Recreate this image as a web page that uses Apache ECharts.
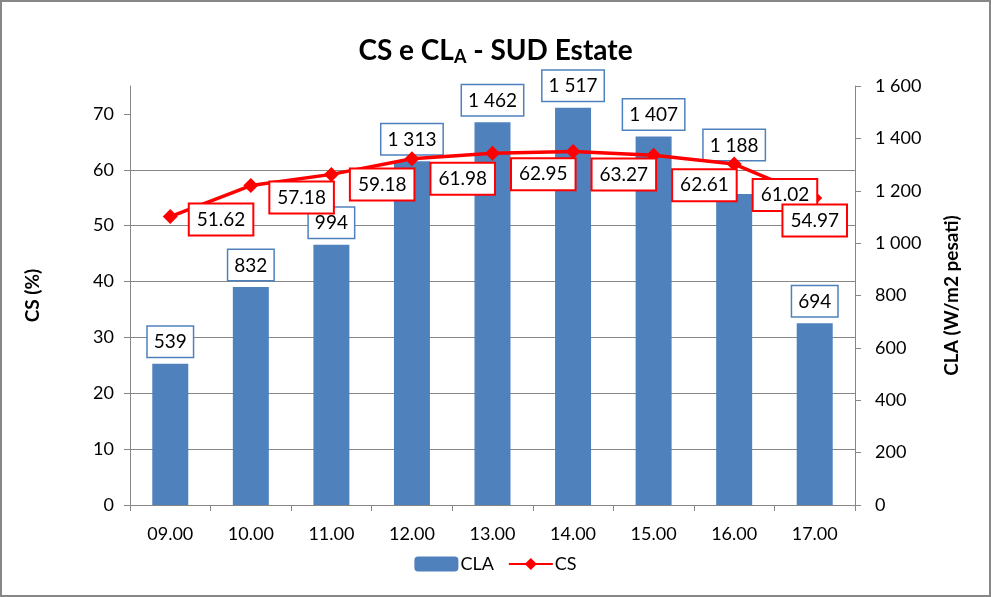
<!DOCTYPE html>
<html>
<head>
<meta charset="utf-8">
<title>CS e CLA - SUD Estate</title>
<script src="https://cdn.jsdelivr.net/npm/echarts@6/dist/echarts.min.js"></script>
<style>
  html, body { margin: 0; padding: 0; background: #fff; }
  #chart { width: 991px; height: 597px; box-sizing: border-box; border: 2px solid #878787; }
</style>
</head>
<body>
<div id="chart"></div>
<script>
// categories (ore)
const hours = ['09.00', '10.00', '11.00', '12.00', '13.00', '14.00', '15.00', '16.00', '17.00']
// CLA (W/m2 pesati) - barre, asse destro
const claValues = [539, 832, 994, 1313, 1462, 1517, 1407, 1188, 694]
// CS (%) - linea, asse sinistro
const csValues = [51.62, 57.18, 59.18, 61.98, 62.95, 63.27, 62.61, 61.02, 54.97]
// tick labels
const csTicks = [0, 10, 20, 30, 40, 50, 60, 70]
const claTicks = [0, 200, 400, 600, 800, 1000, 1200, 1400, 1600]

// spostamento verticale delle etichette (solo impaginazione)
const csLabelDy = [3, 12, 10, 20, 21, 23, 30, 31]
const claLabelDy = [0, 0, 0, 0, 0, 0, 0, -27, 0]

const FONT = 'Lato'
const BLUE = '#4F81BD'
const RED = '#FF0000'
const GREY = '#868686'

// "1 313" style
const spaced = (v) => {
  v = Math.round(v)
  if (v < 1000) return String(v)
  const r = String(v % 1000).padStart(3, '0')
  return Math.floor(v / 1000) + ' ' + r
}

const chart = echarts.init(document.getElementById('chart'), null, { renderer: 'canvas' })

const csData = csValues.map((v, i) => {
  if (i === csValues.length - 1) {
    return { value: v, label: { position: 'bottom', distance: 0 } }
  }
  return { value: v, label: { offset: [0, csLabelDy[i]] } }
})

const claData = claValues.map((v, i) => ({
  value: v,
  label: { offset: [0, claLabelDy[i]] }
}))

chart.setOption({
  animation: false,
  textStyle: { fontFamily: FONT },
  title: {
    text: 'CS e CL{sub|A} - SUD Estate',
    left: 'center',
    top: 29,
    textStyle: {
      fontFamily: FONT,
      fontSize: 28,
      fontWeight: 'bold',
      color: '#000',
      rich: {
        sub: { fontFamily: FONT, fontSize: 18, fontWeight: 'bold', color: '#000', verticalAlign: 'bottom', padding: [12, 0, 0, 0] }
      }
    }
  },
  legend: {
    bottom: 17,
    left: 'center',
    itemWidth: 44,
    itemHeight: 15,
    itemGap: 14,
    textStyle: { fontFamily: FONT, fontSize: 18, color: '#000', padding: [0, 0, 0, -3] },
    data: [
      { name: 'CLA', icon: 'roundRect' },
      { name: 'CS' }
    ]
  },
  grid: { left: 128, right: 134, top: 84, bottom: 90 },
  xAxis: {
    type: 'category',
    data: hours,
    boundaryGap: true,
    axisLine: { lineStyle: { color: GREY, width: 1 } },
    axisTick: { show: true, length: 6, lineStyle: { color: GREY } },
    axisLabel: { fontFamily: FONT, fontSize: 18, color: '#000', margin: 20 }
  },
  yAxis: [
    {
      type: 'value',
      name: 'CS (%)',
      nameLocation: 'middle',
      nameRotate: 90,
      nameGap: 88,
      nameTextStyle: { fontFamily: FONT, fontSize: 19, fontWeight: 'bold', color: '#000' },
      min: 0,
      max: 75,
      interval: 10,
      axisLine: { show: true, lineStyle: { color: GREY } },
      axisTick: { show: true, length: 6, lineStyle: { color: GREY }, customValues: csTicks },
      axisLabel: { fontFamily: FONT, fontSize: 18, color: '#000', margin: 16, customValues: csTicks },
      splitLine: { show: true, showMaxLine: false, lineStyle: { color: GREY, width: 1 } }
    },
    {
      type: 'value',
      name: 'CLA (W/m2 pesati)',
      nameLocation: 'middle',
      nameRotate: 90,
      nameGap: 87,
      nameTextStyle: { fontFamily: FONT, fontSize: 19, fontWeight: 'bold', color: '#000' },
      min: 0,
      max: 1600,
      interval: 200,
      axisLine: { show: true, lineStyle: { color: GREY } },
      axisTick: { show: true, length: 6, lineStyle: { color: GREY }, customValues: claTicks },
      axisLabel: { fontFamily: FONT, fontSize: 18, color: '#000', margin: 20, formatter: spaced, customValues: claTicks },
      splitLine: { show: false }
    }
  ],
  series: [
    {
      name: 'CLA',
      type: 'bar',
      yAxisIndex: 1,
      data: claData,
      barWidth: 36,
      z: 2,
      itemStyle: { color: BLUE },
      label: {
        show: true,
        position: 'top',
        distance: 7,
        formatter: (p) => spaced(p.value),
        fontFamily: FONT,
        fontSize: 19,
        color: '#000',
        backgroundColor: '#fff',
        borderColor: BLUE,
        borderWidth: 1.5,
        padding: [6, 6, 5, 6]
      }
    },
    {
      name: 'CS',
      type: 'line',
      yAxisIndex: 0,
      data: csData,
      z: 3,
      symbol: 'diamond',
      symbolSize: 15,
      lineStyle: { color: RED, width: 3.5 },
      itemStyle: { color: RED },
      label: {
        show: true,
        position: 'right',
        distance: 12,
        formatter: (p) => p.value.toFixed(2),
        fontFamily: FONT,
        fontSize: 19,
        color: '#000',
        backgroundColor: '#fff',
        borderColor: RED,
        borderWidth: 2,
        padding: [6, 7, 5, 7]
      }
    }
  ]
})
</script>
</body>
</html>
